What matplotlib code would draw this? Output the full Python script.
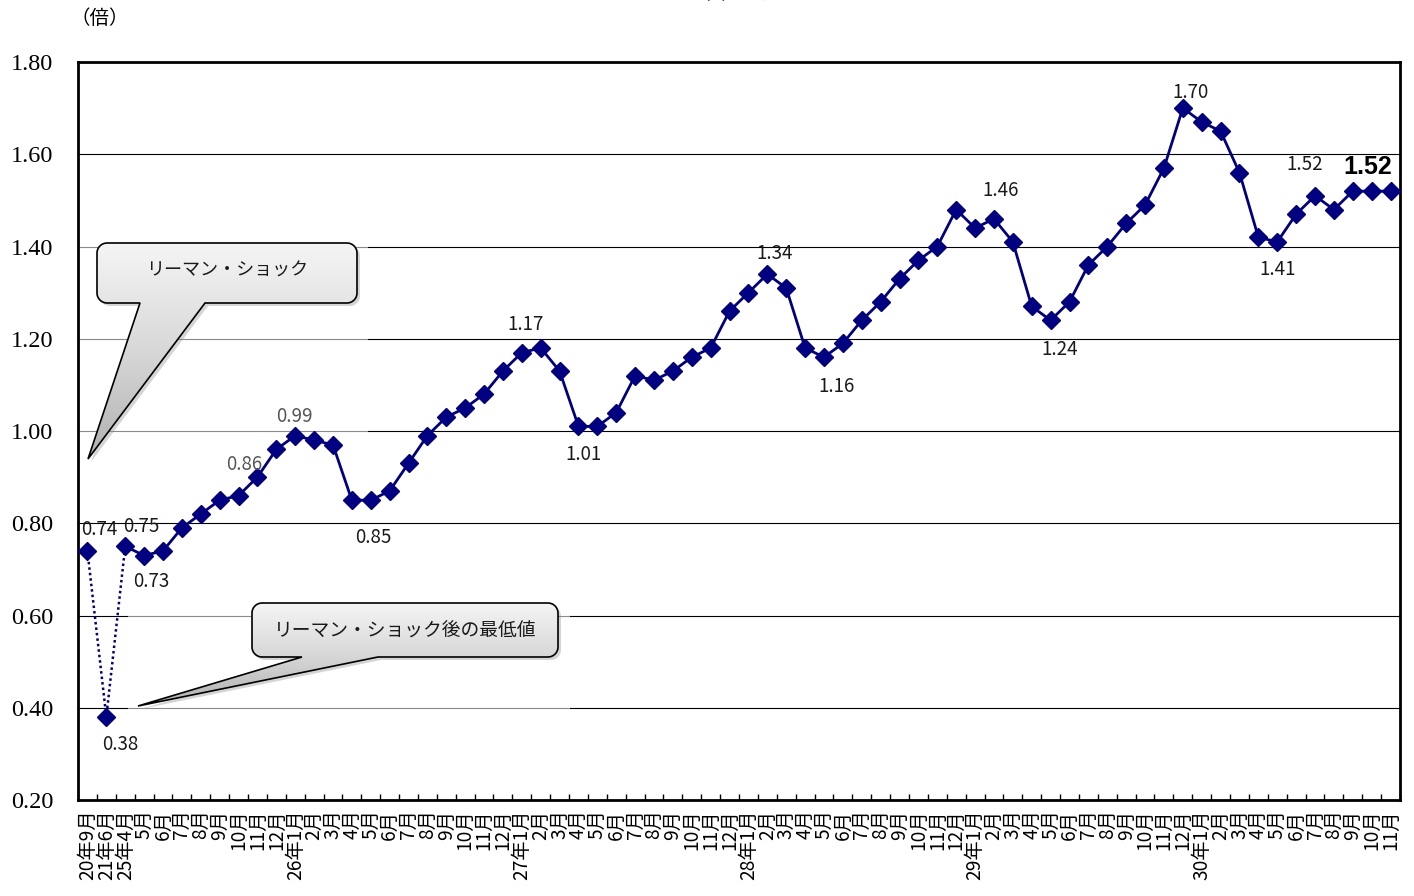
import numpy as np
import matplotlib
matplotlib.use("Agg")
import matplotlib.pyplot as plt
from matplotlib.patches import Polygon, Rectangle
from matplotlib.colors import LinearSegmentedColormap

plt.rcParams['font.family'] = ['Noto Sans CJK JP', 'DejaVu Sans']

# ---------------- data ----------------
categories = ['20年9月', '21年6月', '25年4月', '5月', '6月', '7月', '8月', '9月', '10月', '11月', '12月',
              '26年1月', '2月', '3月', '4月', '5月', '6月', '7月', '8月', '9月', '10月', '11月', '12月',
              '27年1月', '2月', '3月', '4月', '5月', '6月', '7月', '8月', '9月', '10月', '11月', '12月',
              '28年1月', '2月', '3月', '4月', '5月', '6月', '7月', '8月', '9月', '10月', '11月', '12月',
              '29年1月', '2月', '3月', '4月', '5月', '6月', '7月', '8月', '9月', '10月', '11月', '12月',
              '30年1月', '2月', '3月', '4月', '5月', '6月', '7月', '8月', '9月', '10月', '11月']
ratios = [0.74, 0.38, 0.75, 0.73, 0.74, 0.79, 0.82, 0.85, 0.86, 0.90, 0.96,
          0.99, 0.98, 0.97, 0.85, 0.85, 0.87, 0.93, 0.99, 1.03, 1.05, 1.08, 1.13,
          1.17, 1.18, 1.13, 1.01, 1.01, 1.04, 1.12, 1.11, 1.13, 1.16, 1.18, 1.26,
          1.30, 1.34, 1.31, 1.18, 1.16, 1.19, 1.24, 1.28, 1.33, 1.37, 1.40, 1.48,
          1.44, 1.46, 1.41, 1.27, 1.24, 1.28, 1.36, 1.40, 1.45, 1.49, 1.57, 1.70,
          1.67, 1.65, 1.56, 1.42, 1.41, 1.47, 1.51, 1.48, 1.52, 1.52, 1.52]
yticks = [0.20, 0.40, 0.60, 0.80, 1.00, 1.20, 1.40, 1.60, 1.80]
# labelled points: index, text
label_idx = [0, 1, 2, 3, 8, 11, 15, 23, 26, 36, 39, 48, 51, 58, 65, 63, 69]
label_txt = ['0.74', '0.38', '0.75', '0.73', '0.86', '0.99', '0.85', '1.17', '1.01',
             '1.34', '1.16', '1.46', '1.24', '1.70', '1.52', '1.41', '1.52']
callout_texts = ['リーマン・ショック', 'リーマン・ショック後の最低値']

# ---------------- styling / layout ----------------
label_off = [(12, -21), (14, 28), (16, -20), (7, 26), (6, -31), (-1, -19), (3, 37), (4, -28),
             (5, 28), (7, -21), (13, 29), (7, -28), (9, 29), (8, -16), (-10, -31), (0, 28), (-23, -24)]
NAVY = '#000080'
W, H = 1414, 896
fig = plt.figure(figsize=(W / 100, H / 100), dpi=100)
L, R, T, B = 78, 1400, 62, 800
ax = fig.add_axes([L / W, 1 - B / H, (R - L) / W, (B - T) / H])

x = np.arange(len(ratios))
# dotted connection over the gap years
ax.plot(x[:3], ratios[:3], color=NAVY, lw=1.8, ls=(0, (1, 1.2)), zorder=3)
ax.plot(x[2:], ratios[2:], color=NAVY, lw=2.0, zorder=3)
ax.plot(x, ratios, ls='none', marker='D', ms=8.8, color=NAVY, mec=NAVY, zorder=4)

ax.set_xlim(-0.5, len(ratios) - 0.5)
ax.set_ylim(0.2, 1.8)
ax.set_yticks(yticks)
ax.set_yticklabels([f'{v:.2f}' for v in yticks], family='Liberation Serif', fontsize=17.5)
ax.tick_params(axis='y', length=0, pad=18)
ax.set_xticks(x)
ax.set_xticklabels(categories, rotation=90, fontsize=13.8, va='top', ha='center')
ax.tick_params(axis='x', which='major', length=0, pad=7)
ax.set_xticks(np.arange(-0.5, len(ratios), 1.0), minor=True)
ax.tick_params(axis='x', which='minor', direction='in', length=4, width=1, color='black')
ax.grid(axis='y', color='black', lw=0.8, zorder=0.5)
ax.set_axisbelow(True)
for s in ax.spines.values():
    s.set_linewidth(2.0)
    s.set_color('black')

# overlay axes in pixel coordinates (y down)
ov = fig.add_axes([0, 0, 1, 1], facecolor='none', zorder=5)
ov.set_xlim(0, W)
ov.set_ylim(H, 0)
ov.axis('off')

# translucent panels behind the callouts (grey-out gridlines)
for (rx0, ry0, rx1, ry1) in [(76, 240, 368, 477), (128, 600, 570, 712)]:
    ax.add_patch(Rectangle((rx0, ry0), rx1 - rx0, ry1 - ry0, transform=ov.transData,
                           facecolor='white', edgecolor='none', alpha=0.55, zorder=1, clip_on=False))
ax.set_xlim(-0.5, len(ratios) - 0.5)
ax.set_ylim(0.2, 1.8)

# data labels
for i, t, (dx, dy) in zip(label_idx, label_txt, label_off):
    big = (i == len(ratios) - 1)
    col = '#555555' if i in (8, 11) else '#1a1a1a'
    ax.annotate(t, (x[i], ratios[i]), xytext=(dx, -dy), textcoords='offset pixels',
                ha='center', va='center', fontsize=18 if big else 13.5,
                fontweight='bold' if big else 'normal', color='black' if big else col,
                family=['Liberation Sans', 'DejaVu Sans'] if big else None, zorder=6)


def callout(x0, y0, x1, y1, r, bl, br, tip):
    pts = []

    def arc(cx, cy, a0, a1):
        for a in np.linspace(a0, a1, 10):
            pts.append((cx + r * np.cos(a), cy + r * np.sin(a)))
    arc(x0 + r, y0 + r, np.pi, 1.5 * np.pi)
    arc(x1 - r, y0 + r, 1.5 * np.pi, 2 * np.pi)
    arc(x1 - r, y1 - r, 0, 0.5 * np.pi)
    pts.append((br, y1))
    pts.append(tip)
    pts.append((bl, y1))
    arc(x0 + r, y1 - r, 0.5 * np.pi, np.pi)
    return np.array(pts)


grad = np.linspace(0, 1, 256).reshape(-1, 1)
cmap = LinearSegmentedColormap.from_list('g', ['#f5f5f5', '#d8d8d8', '#b0b0b0'])

shapes = [
    ((97, 243, 357, 303), 10, 140, 205, (88, 459), (227, 271), 13),
    ((252, 603, 558, 657), 10, 302, 378, (138, 706), (405, 631), 13.5),
]
for (bx0, by0, bx1, by1), rr, bl, br, tip, tpos, fs in shapes:
    pts = callout(bx0, by0, bx1, by1, rr, bl, br, tip)
    shadow = Polygon(pts + np.array([3, 3]), closed=True, facecolor='#888888', alpha=0.35,
                     edgecolor='none', transform=ov.transData, zorder=1)
    ov.add_patch(shadow)
    poly = Polygon(pts, closed=True, facecolor='none', edgecolor='black', lw=1.2,
                   transform=ov.transData, zorder=3, joinstyle='miter')
    ov.add_patch(poly)
    ymin, ymax = pts[:, 1].min(), pts[:, 1].max()
    xmin, xmax = pts[:, 0].min(), pts[:, 0].max()
    im = ov.imshow(grad, cmap=cmap, aspect='auto', extent=(xmin, xmax, ymax, ymin),
                   zorder=2, interpolation='bilinear')
    im.set_clip_path(Polygon(pts, closed=True, transform=ov.transData))
ov.set_xlim(0, W)
ov.set_ylim(H, 0)
for ((bx0, by0, bx1, by1), rr, bl, br, tip, tpos, fs), txt in zip(shapes, callout_texts):
    ov.text(tpos[0], tpos[1], txt, ha='center', va='center', fontsize=fs, color='#1a1a1a', zorder=4)

# unit label and (cropped) title
fig.text(100 / W, 1 - 18 / H, '（倍）', ha='center', va='center', fontsize=14)
fig.text(708 / W, 1 + 6 / H, '【有効求人倍率】', ha='center', va='center', fontsize=13)

fig.savefig('out.png', dpi=100)
